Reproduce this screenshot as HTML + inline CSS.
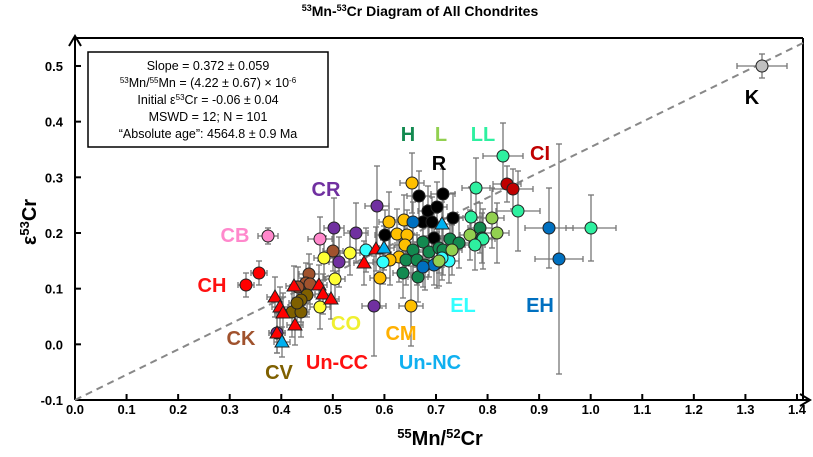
<!DOCTYPE html>
<html><head><meta charset="utf-8">
<style>
html,body{margin:0;padding:0;background:#fff;}
svg{display:block;font-family:"Liberation Sans",Arial,sans-serif;}
.tk{font-size:13px;font-weight:bold;}
.lb{font-size:20px;font-weight:bold;}
</style></head><body>
<svg id="s" width="813" height="457" viewBox="0 0 813 457" xmlns="http://www.w3.org/2000/svg">
<text x="420" y="16" text-anchor="middle" font-size="14" font-weight="bold"><tspan font-size="9" dy="-5">53</tspan><tspan dy="5">Mn-</tspan><tspan font-size="9" dy="-5">53</tspan><tspan dy="5">Cr Diagram of All Chondrites</tspan></text>
<g stroke="#000" stroke-width="2" fill="none">
<line x1="75" y1="38" x2="803" y2="38"/>
<line x1="803" y1="38" x2="803" y2="400"/>
<line x1="75" y1="400" x2="75" y2="36"/>
<line x1="75" y1="400" x2="810" y2="400"/>
<polyline points="69,46 75,36 81,46"/>
<polyline points="800,394 810,400 800,406"/>
</g>
<g id="ticks" stroke="#000" stroke-width="2"></g>
<g id="tl" class="tk"></g>
<line x1="75" y1="400" x2="803" y2="43" stroke="#888" stroke-width="2" stroke-dasharray="7,5"/>
<g id="err" stroke="#777" stroke-width="1.3"></g>
<g id="pts" stroke="#222" stroke-width="1"></g>
<rect x="88" y="52" width="240" height="95" fill="#fff" stroke="#000" stroke-width="1.5"/>
<g font-size="12.5" text-anchor="middle">
<text x="208" y="70">Slope = 0.372 ± 0.059</text>
<text x="208" y="87"><tspan font-size="8" dy="-4">53</tspan><tspan dy="4">Mn/</tspan><tspan font-size="8" dy="-4">55</tspan><tspan dy="4">Mn = (4.22 ± 0.67) × 10</tspan><tspan font-size="8" dy="-4">-6</tspan></text>
<text x="208" y="104">Initial ε<tspan font-size="8" dy="-4">53</tspan><tspan dy="4">Cr = -0.06 ± 0.04</tspan></text>
<text x="208" y="121">MSWD = 12; N = 101</text>
<text x="208" y="138">“Absolute age”: 4564.8 ± 0.9 Ma</text>
</g>
<text x="36" y="222" transform="rotate(-90 36 222)" text-anchor="middle" font-size="20" font-weight="bold">ε<tspan font-size="13" dy="-7">53</tspan><tspan dy="7">Cr</tspan></text>
<text x="440" y="445" text-anchor="middle" font-size="20" font-weight="bold"><tspan font-size="13" dy="-7">55</tspan><tspan dy="7">Mn/</tspan><tspan font-size="13" dy="-7">52</tspan><tspan dy="7">Cr</tspan></text>
<g class="lb" text-anchor="middle">
<text x="408" y="141" fill="#138a50">H</text>
<text x="441" y="141" fill="#92d050">L</text>
<text x="483" y="141" fill="#2ef0a0">LL</text>
<text x="540" y="160" fill="#c00000">CI</text>
<text x="439" y="170" fill="#000">R</text>
<text x="326" y="196" fill="#7030a0">CR</text>
<text x="235" y="242" fill="#ff88cc">CB</text>
<text x="212" y="292" fill="#ff1010">CH</text>
<text x="241" y="345" fill="#a0522d">CK</text>
<text x="279" y="379" fill="#7f6000">CV</text>
<text x="346" y="330" fill="#f0f030">CO</text>
<text x="401" y="340" fill="#ffb000">CM</text>
<text x="337" y="369" fill="#ff1010">Un-CC</text>
<text x="430" y="369" fill="#10b0f0">Un-NC</text>
<text x="463" y="312" fill="#33ffff">EL</text>
<text x="540" y="312" fill="#0070c0">EH</text>
<text x="752" y="104" fill="#000">K</text>
</g>
<script>
var ns="http://www.w3.org/2000/svg";
function el(p,t,a){var e=document.createElementNS(ns,t);for(var k in a)e.setAttribute(k,a[k]);document.getElementById(p).appendChild(e);return e;}
for(var i=0;i<=14;i++){var x=75+i*51.57;el("ticks","line",{x1:x,y1:400,x2:x,y2:394});var t=el("tl","text",{x:x,y:414,"text-anchor":"middle"});t.textContent=(i/10).toFixed(1);}
var yl=["-0.1","0.0","0.1","0.2","0.3","0.4","0.5"];
for(var j=0;j<7;j++){var y=400-j*55.67;el("ticks","line",{x1:75,y1:y,x2:81,y2:y});var t=el("tl","text",{x:63,y:y+5,"text-anchor":"end"});t.textContent=yl[j];}
var C={H:"#138a50",L:"#92d050",LL:"#2ef0a0",R:"#000",CI:"#c00000",EH:"#0070c0",EL:"#33ffff",CM:"#ffc000",CO:"#ffff33",CV:"#7f6000",CK:"#a0522d",CR:"#7030a0",CB:"#ff88cc",CH:"#ff0000",UC:"#ff0000",UN:"#00b0f0",K:"#c0c0c0"};
var P=[
[246,285,"CH",8,12],[259,273,"CH",8,12],
[268,236,"CB",10,8],[320,239,"CB",12,22],
[334,228,"CR",10,30],[356,233,"CR",12,30],[377,206,"CR",12,40],[339,262,"CR",10,25],[374,306,"CR",12,50],[277,333,"CR",8,20],
[309,274,"CK",10,20],[333,251,"CK",10,20],[306,283,"CK",8,20],[310,284,"CK",8,20],[298,287,"CK",8,20],
[307,295,"CV",8,22],[301,300,"CV",8,22],[292,312,"CV",8,25],[301,312,"CV",8,25],[297,303,"CV",8,22],
[324,258,"CO",10,22],[350,253,"CO",10,22],[335,279,"CO",10,22],[320,307,"CO",10,22],
[412,183,"CM",12,30],[389,222,"CM",10,30],[404,220,"CM",10,25],[397,234,"CM",10,25],[407,235,"CM",10,25],[405,245,"CM",10,25],[380,278,"CM",10,30],[399,257,"CM",10,25],[411,306,"CM",12,40],[390,260,"CM",10,25],
[419,196,"R",12,25],[443,194,"R",12,25],[428,211,"R",10,25],[437,207,"R",10,25],[423,222,"R",10,25],[432,222,"R",10,25],[453,218,"R",10,25],[385,235,"R",10,25],[434,238,"R",10,25],
[423,242,"H",10,25],[413,250,"H",10,25],[429,252,"H",10,25],[439,248,"H",10,25],[450,239,"H",10,25],[459,243,"H",10,25],[406,260,"H",10,25],[417,260,"H",10,25],[425,265,"H",10,25],[403,273,"H",10,25],[418,277,"H",10,25],[437,263,"H",10,25],[480,228,"H",12,25],[443,250,"H",10,25],[482,238,"H",10,25],
[413,222,"EH",10,20],[434,265,"EH",10,20],[423,267,"EH",10,20],[549,228,"EH",24,40],[559,259,"EH",24,115],
[366,250,"EL",10,22],[383,262,"EL",10,22],[449,261,"EL",10,22],[442,258,"EL",10,22],
[452,250,"L",10,25],[439,261,"L",10,25],[492,218,"L",12,30],[497,233,"L",12,30],[470,235,"L",10,25],
[503,156,"LL",20,33],[476,188,"LL",14,30],[471,217,"LL",12,30],[483,239,"LL",12,30],[518,211,"LL",22,40],[591,228,"LL",25,33],[475,245,"LL",10,25],
[507,184,"CI",14,18],[513,189,"CI",20,20],
[762,66,"K",25,12],
[294,286,"UC",8,20,1],[275,297,"UC",8,20,1],[319,285,"UC",8,20,1],[323,294,"UC",8,20,1],[331,299,"UC",8,20,1],[280,307,"UC",8,20,1],[283,313,"UC",8,20,1],[295,325,"UC",8,20,1],[277,333,"UC",8,20,1],[364,263,"UC",10,22,1],[376,249,"UC",10,22,1],
[282,342,"UN",8,15,1],[384,248,"UN",10,22,1],[442,224,"UN",10,22,1]
];
P.forEach(function(p){var x=p[0],y=p[1],xe=p[3],ye=p[4];
el("err","line",{x1:x-xe,y1:y,x2:x+xe,y2:y});el("err","line",{x1:x,y1:y-ye,x2:x,y2:y+ye});
el("err","line",{x1:x-xe,y1:y-3,x2:x-xe,y2:y+3});el("err","line",{x1:x+xe,y1:y-3,x2:x+xe,y2:y+3});
el("err","line",{x1:x-3,y1:y-ye,x2:x+3,y2:y-ye});el("err","line",{x1:x-3,y1:y+ye,x2:x+3,y2:y+ye});});
P.forEach(function(p){var x=p[0],y=p[1];
if(p[5])el("pts","polygon",{points:(x)+","+(y-7)+" "+(x-7)+","+(y+5)+" "+(x+7)+","+(y+5),fill:C[p[2]]});
else el("pts","circle",{cx:x,cy:y,r:6,fill:C[p[2]]});});
</script>
</svg>
</body></html>
